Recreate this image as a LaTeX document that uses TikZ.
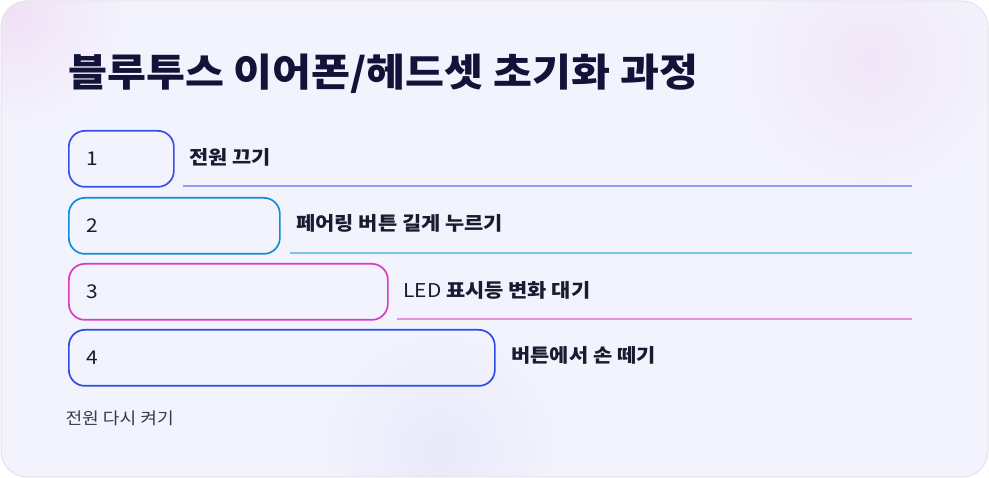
\documentclass[tikz,border=0pt]{standalone}
\usepackage{fontspec}
\setmainfont{Noto Sans CJK KR}[FakeStretch=1.1]
\usetikzlibrary{calc}
\definecolor{bgc}{HTML}{F3F3FD}
\definecolor{edgec}{HTML}{E3E3EC}
\definecolor{titlec}{HTML}{13133A}
\definecolor{txtc}{HTML}{1A1A30}
\definecolor{footc}{HTML}{3A3A48}
\definecolor{cA}{HTML}{3A4EEE}
\definecolor{cB}{HTML}{0D90DA}
\definecolor{cC}{HTML}{D83CC2}
\definecolor{cD}{HTML}{2E4CE8}
\definecolor{lA}{HTML}{8E9CF2}
\definecolor{lB}{HTML}{7CC2F0}
\definecolor{lC}{HTML}{E892DE}
\definecolor{pinkglow}{HTML}{F0DDF5}
\definecolor{lavglow}{HTML}{E8E8FA}
\tikzset{
  stepbox/.style={draw=#1, line width=1.7pt, rounded corners=16pt, minimum height=56pt, inner sep=0pt},
  numtxt/.style={font=\fontsize{19}{22}\selectfont, text=txtc, anchor=west},
  labtxt/.style={font=\bfseries\fontsize{19}{22}\selectfont, text=txtc, anchor=west},
  uline/.style={draw=#1, line width=1.5pt},
}
\begin{document}
\begin{tikzpicture}[x=1pt,y=-1pt]
\useasboundingbox (0,0) rectangle (989,478);
\fill[white] (0,0) rectangle (989,478);
\begin{scope}
\clip[rounded corners=26pt] (1,1) rectangle (988,477);
\fill[bgc] (0,0) rectangle (989,478);
\shade[inner color=pinkglow, outer color=bgc, opacity=0.6] (870,60) circle (130pt);
\shade[inner color=pinkglow, outer color=bgc, opacity=0.9] (0,0) circle (130pt);
\shade[inner color=lavglow, outer color=bgc] (440,450) circle (120pt);
\end{scope}
\draw[edgec, line width=1pt, rounded corners=26pt] (1,1) rectangle (988,477);

\node[anchor=base west, font=\bfseries\fontsize{38.5}{44}\selectfont, text=titlec, inner sep=0pt] (title) at (68,87) {블루투스 이어폰/헤드셋 초기화 과정};

\node[stepbox=cA, minimum width=105pt, anchor=north west] (b1) at (68,130) {};
\node[stepbox=cB, minimum width=211pt, anchor=north west] (b2) at (68,197) {};
\node[stepbox=cC, minimum width=319pt, anchor=north west] (b3) at (68,263) {};
\node[stepbox=cD, minimum width=426pt, anchor=north west] (b4) at (68,329) {};

\node[numtxt] (n1) at ($(b1.west)+(15,0)$) {1};
\node[numtxt] (n2) at ($(b2.west)+(15,0)$) {2};
\node[numtxt] (n3) at ($(b3.west)+(15,0)$) {3};
\node[numtxt] (n4) at ($(b4.west)+(15,0)$) {4};

\node[labtxt] (t1) at (186,157) {전원 끄기};
\node[labtxt] (t2) at (293,223) {페어링 버튼 길게 누르기};
\node[labtxt] (t3) at (400,290) {\mdseries LED \bfseries 표시등 변화 대기};
\node[labtxt] (t4) at (508,355) {버튼에서 손 떼기};

\coordinate (e1) at (912,186);
\coordinate (e2) at (912,253);
\coordinate (e3) at (912,319);
\draw[uline=lA] (183,186) -- (e1);
\draw[uline=lB] (290,253) -- (e2);
\draw[uline=lC] (397,319) -- (e3);

\node[anchor=west, font=\fontsize{16.5}{19}\selectfont, text=footc] (foot) at (62,418) {전원 다시 켜기};
\end{tikzpicture}
\end{document}
